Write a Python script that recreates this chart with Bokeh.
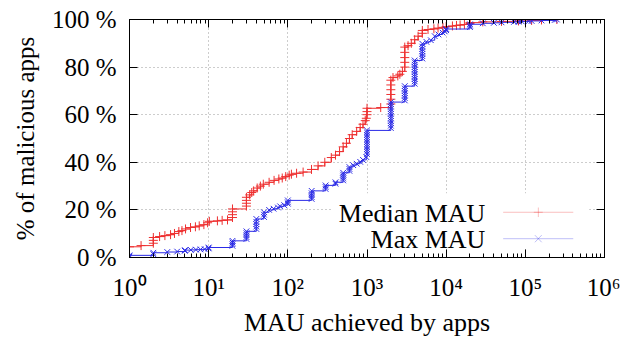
import math
from bokeh.plotting import figure
from bokeh.models import (Range1d, FixedTicker, LogAxis, LinearAxis, CustomJSTickFormatter,
                          BoxAnnotation, Label, PolyAnnotation, Title)
from bokeh.embed import file_html
from bokeh.resources import INLINE

# ---------------- data ----------------
median_mau = [1, 1.4, 2, 2, 2, 2.4, 2.8, 3.3, 3.7, 4.2, 4.6, 5.1, 5.9, 6.8, 7.6, 8.7, 9.7, 10.2,
              12.9, 14.8, 17.3, 20, 20, 20, 20, 30, 30, 30, 30, 33, 35, 37, 41, 45, 49, 58, 67,
              77, 85, 94, 104, 111, 129, 156, 199, 241, 293, 354, 400, 450, 500, 550, 600, 650,
              740, 820, 890, 950, 980, 1000, 1000, 1000, 1490, 2000, 2000, 2000, 2000, 2000, 2000,
              2130, 2450, 2600, 2800, 3000, 3000, 3000, 3000, 3000, 3300, 3630, 4000, 4420, 5000,
              5000, 5900, 7000, 7900, 9100, 10000, 12000, 13500, 15000, 17000, 20000, 20000,
              29000, 50000, 82000, 120000, 160000, 250000]
median_pct = [4.5, 5.0, 6.0, 7.2, 8.4, 8.8, 9.2, 9.6, 10.1, 10.9, 11.3, 12.0, 12.6, 12.9, 13.3, 13.8,
              14.6, 15.2, 15.4, 15.6, 15.8, 16.8, 18.0, 19.2, 20.4, 21.6, 22.8, 24.0, 25.3, 26.3,
              27.3, 28.0, 29.2, 30.0, 30.8, 31.6, 32.4, 33.0, 33.4, 34.0, 34.6, 35.0, 35.4, 35.9,
              37.0, 38.5, 40.0, 42.0, 43.0, 44.5, 46.5, 48.0, 50.0, 51.6, 53.0, 54.6, 56.0, 57.5,
              58.5, 60.0, 61.3, 62.7, 63.0, 64.5, 66.5, 68.5, 70.5, 72.5, 74.5, 75.6, 76.3, 77.0,
              78.2, 80.0, 82.0, 84.0, 86.2, 88.4, 89.0, 90.0, 91.5, 93.0, 94.2, 95.4, 95.8, 96.1,
              96.4, 96.7, 97.0, 97.3, 97.5, 97.7, 97.9, 98.3, 98.7, 99.0, 99.2, 99.4, 99.6, 99.8,
              100.0]

max_mau = [1, 1, 2, 2, 3, 4, 5, 5, 5.95, 6.9, 7.9, 8.9, 10, 10, 20, 20, 20, 20, 30, 30, 30, 30, 30,
           40, 40, 40, 40, 40, 50, 50, 50, 58, 66, 75, 80, 90, 100, 100, 100, 200, 200, 200, 200,
           200, 300, 300, 300, 400, 400, 500, 500, 500, 500, 500, 600, 600, 600, 670, 740, 820, 890,
           980, 1000, 1000, 1000, 1000, 1000, 1000, 1000, 1000, 1000, 1000, 1000, 2000, 2000, 2000,
           2000, 2000, 2000, 2000, 2000, 2000, 2000, 2000, 2000, 3000, 3000, 3000, 3000, 3000, 3000,
           3000, 4000, 4000, 4000, 4000, 4000, 4000, 4000, 4000, 4000, 4000, 4000, 5000, 5000, 5000,
           5000, 5000, 5000, 5000, 5630, 6400, 7170, 8000, 9000, 9600, 10000, 10000, 20000, 20000,
           20000, 29000, 40000, 50000, 72000, 82000, 90000, 110000, 120000, 160000, 235000, 250000]
max_pct = [0.4, 0.9, 1.4, 2.0, 2.3, 2.5, 2.8, 3.1, 3.2, 3.3, 3.4, 3.5, 3.8, 4.2, 4.9, 5.6, 6.3, 7.0,
           7.8, 8.6, 9.4, 10.2, 11.0, 12.0, 13.0, 14.0, 15.0, 16.2, 17.0, 18.0, 19.0, 20.0, 20.5,
           21.0, 21.5, 22.0, 22.6, 23.2, 24.0, 24.6, 25.4, 26.2, 27.0, 28.0, 28.8, 29.6, 30.3, 31.0,
           31.6, 32.4, 33.2, 34.0, 34.8, 35.6, 36.4, 37.2, 38.0, 38.8, 39.4, 40.2, 41.0, 42.2, 43.5,
           44.5, 45.5, 46.5, 47.5, 48.5, 49.5, 50.5, 51.5, 52.5, 53.4, 54.4, 55.4, 56.4, 57.4, 58.4,
           59.4, 60.4, 61.4, 62.4, 63.4, 64.4, 65.3, 66.0, 67.0, 68.0, 69.0, 70.0, 71.0, 72.0, 73.0,
           74.0, 75.0, 76.0, 77.0, 78.0, 79.0, 80.0, 81.0, 82.0, 82.8, 83.6, 84.6, 85.6, 86.6, 87.6,
           88.6, 89.8, 90.6, 91.3, 93.0, 93.7, 94.5, 95.0, 95.5, 96.0, 96.8, 97.4, 98.0, 98.4, 98.6,
           98.8, 99.0, 99.1, 99.2, 99.3, 99.4, 99.6, 99.8, 100.0]

series_names = ["Median MAU", "Max MAU"]
x_title = "MAU achieved by apps"
y_title = "% of malicious apps"
x_ticks = [1, 10, 100, 1000, 10000, 100000, 1000000]
x_minor = [m * 10 ** d for d in range(6) for m in range(2, 10)]
y_ticks = [0, 20, 40, 60, 80, 100]

RED = "#ee3030"
BLUE = "#2a2ae6"
FONT = "Liberation Serif"

p = figure(frame_width=475, frame_height=238, x_axis_type="log",
           x_range=Range1d(1, 1e6), y_range=Range1d(0, 100),
           output_backend="svg", toolbar_location=None,
           min_border_left=128, min_border_right=16, min_border_top=19, min_border_bottom=78)

p.outline_line_color = "black"
p.outline_line_alpha = 1
p.outline_line_width = 1
p.background_fill_color = "white"

# grid
p.xgrid.ticker = FixedTicker(ticks=x_ticks)
p.ygrid.ticker = FixedTicker(ticks=y_ticks)
for g in (p.xgrid[0], p.ygrid[0]):
    g.grid_line_color = "#9a9a9a"
    g.grid_line_dash = "1 3"
    g.grid_line_width = 1

sup_fmt = CustomJSTickFormatter(code="""
const s = ['\u2070','\u00b9','\u00b2','\u00b3','\u2074','\u2075','\u2076','\u2077','\u2078','\u2079'];
const e = Math.round(Math.log10(tick));
return '10' + s[e];
""")
pct_fmt = CustomJSTickFormatter(code="return tick.toFixed(0) + ' %';")
blank_fmt = CustomJSTickFormatter(code="return '';")


def style_axis(ax):
    ax.axis_line_color = "black"
    ax.major_tick_line_color = "black"
    ax.minor_tick_line_color = "black"
    ax.major_tick_in = 8
    ax.major_tick_out = 0
    ax.minor_tick_in = 4
    ax.minor_tick_out = 0
    ax.major_label_text_font = FONT
    ax.major_label_text_font_size = "25px"
    ax.major_label_text_color = "black"


xa = p.xaxis[0]
style_axis(xa)
xa.ticker = FixedTicker(ticks=x_ticks, minor_ticks=x_minor)
xa.formatter = sup_fmt
xa.major_label_standoff = 16

ya = p.yaxis[0]
style_axis(ya)
ya.ticker = FixedTicker(ticks=y_ticks)
ya.formatter = pct_fmt
ya.major_label_standoff = 13

top = LogAxis(ticker=FixedTicker(ticks=x_ticks, minor_ticks=x_minor), formatter=blank_fmt)
style_axis(top)
top.major_label_text_font_size = "1px"
top.major_label_standoff = 0
p.add_layout(top, "above")

right = LinearAxis(ticker=FixedTicker(ticks=y_ticks), formatter=blank_fmt)
style_axis(right)
right.major_label_text_font_size = "1px"
right.major_label_standoff = 0
p.add_layout(right, "right")

# axis titles as Title objects
p.add_layout(Title(text=x_title, align="center", text_font=FONT, text_font_size="26px",
                   text_font_style="normal", text_color="black", standoff=4), "below")
p.add_layout(Title(text=y_title, align="center", text_font=FONT, text_font_size="25px",
                   text_font_style="normal", text_color="black", standoff=19), "left")

# data
p.step(median_mau, median_pct, mode="after", line_color=RED, line_width=1)
p.scatter(median_mau, median_pct, marker="cross", size=9, line_color=RED, line_width=1)
p.step(max_mau, max_pct, mode="after", line_color=BLUE, line_width=1)
p.scatter(max_mau, max_pct, marker="x", size=8, line_color=BLUE, line_width=1)

# legend (gnuplot style: text on the left, sample on the right)
p.add_layout(BoxAnnotation(left=355, right=640000, bottom=3.6, top=27,
                           fill_color="white", fill_alpha=1, line_alpha=0))
leg_text_y = [18.6, 7.4]
leg_y = [19.0, 7.9]
for name, ty, yy, col in zip(series_names, leg_text_y, leg_y, [RED, BLUE]):
    p.add_layout(Label(x=31300, y=ty, text=name, text_align="right", text_baseline="middle",
                       text_font=FONT, text_font_size="26px", text_color="black"))
    p.add_layout(PolyAnnotation(xs=[52500, 403000], ys=[yy, yy], fill_alpha=0,
                                line_color=col, line_width=1))
# legend markers
p.add_layout(PolyAnnotation(xs=[128000, 166000], ys=[leg_y[0], leg_y[0]], fill_alpha=0,
                            line_color=RED, line_width=1))
p.add_layout(PolyAnnotation(xs=[146000, 146000], ys=[leg_y[0] - 2.0, leg_y[0] + 2.0], fill_alpha=0,
                            line_color=RED, line_width=1))
p.add_layout(PolyAnnotation(xs=[132000, 161000], ys=[leg_y[1] - 1.5, leg_y[1] + 1.5], fill_alpha=0,
                            line_color=BLUE, line_width=1))
p.add_layout(PolyAnnotation(xs=[132000, 161000], ys=[leg_y[1] + 1.5, leg_y[1] - 1.5], fill_alpha=0,
                            line_color=BLUE, line_width=1))

open("out.html", "w").write(file_html(p, INLINE))
